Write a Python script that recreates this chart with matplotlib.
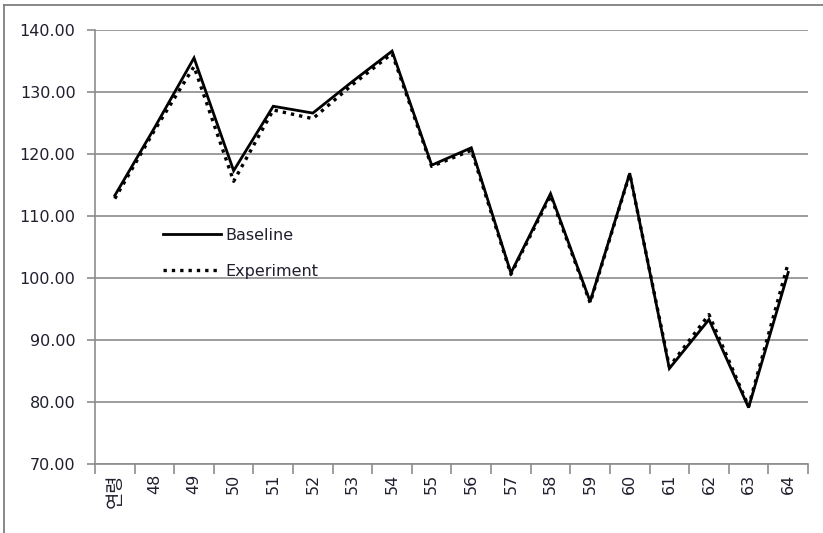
import matplotlib
matplotlib.use("Agg")
import matplotlib.pyplot as plt
from matplotlib.lines import Line2D
from matplotlib.ticker import FixedLocator, FormatStrFormatter

plt.rcParams['font.family'] = ['DejaVu Sans', 'Noto Sans CJK KR']

categories = ['연령', '48', '49', '50', '51', '52', '53', '54', '55',
              '56', '57', '58', '59', '60', '61', '62', '63', '64']
baseline = [113.3, 124.2, 135.5, 117.3, 127.7, 126.6, 131.7, 136.6, 118.2,
            121.0, 100.8, 113.6, 96.2, 116.9, 85.4, 93.3, 79.1, 100.9]
experiment = [112.8, 123.8, 134.1, 115.6, 127.1, 125.7, 131.2, 136.2, 118.0,
              120.6, 100.6, 113.3, 96.0, 116.8, 85.7, 94.1, 79.3, 102.4]

W, H = 823, 533
fig = plt.figure(figsize=(W / 100, H / 100), dpi=100)
fig.patch.set_facecolor('white')

# chart frame edges (left and top)
frame_kw = dict(transform=fig.transFigure, color='#7f7f7f', linewidth=1.3)
fig.add_artist(Line2D([3.5 / W, 3.5 / W], [0, (H - 5) / H], **frame_kw))
fig.add_artist(Line2D([3.5 / W, 1], [(H - 5) / H, (H - 5) / H], **frame_kw))

left, right, top, bottom = 95, 808, 30, 464
ax = fig.add_axes([left / W, (H - bottom) / H, (right - left) / W, (bottom - top) / H])

x = list(range(len(categories)))
ax.plot(x, baseline, color='black', linewidth=2.0, label='Baseline',
        solid_joinstyle='miter', zorder=3)
ax.plot(x, experiment, color='black', linewidth=2.4, linestyle=(0, (1, 1.5)),
        label='Experiment', zorder=4)

ax.set_xlim(-0.5, len(categories) - 0.5)
ax.set_ylim(70, 140)

grid_color = '#8c8c8c'
text_color = '#1f1f2e'

ax.set_yticks(range(70, 141, 10))
ax.yaxis.set_major_formatter(FormatStrFormatter('%.2f'))
ax.yaxis.grid(True, color=grid_color, linewidth=1.2)
ax.set_axisbelow(True)
ax.tick_params(axis='y', direction='out', length=6, width=1.2, color=grid_color,
               labelsize=11.5, labelcolor=text_color, pad=8)

ax.set_xticks(x)
ax.set_xticklabels(categories, rotation=90, va='top', ha='center')
ax.get_xticklabels()[0].set_fontsize(13.5)
ax.xaxis.set_minor_locator(FixedLocator([i - 0.5 for i in range(len(categories) + 1)]))
ax.tick_params(axis='x', which='major', length=0, labelsize=11.5,
               labelcolor=text_color, pad=7)
ax.get_xticklabels()[0].set_fontsize(13.5)
ax.tick_params(axis='x', which='minor', direction='out', length=7, width=1.2,
               color=grid_color)

for side in ('top', 'right'):
    ax.spines[side].set_visible(False)
for side in ('left', 'bottom'):
    ax.spines[side].set_color(grid_color)
    ax.spines[side].set_linewidth(1.2)

ax.legend(loc='upper left', bbox_to_anchor=((163 - left) / (right - left),
                                            (bottom - 228) / (bottom - top)),
          frameon=False, fontsize=11.5, handlelength=3.6, handletextpad=0.3,
          labelspacing=1.3, borderpad=0, borderaxespad=0, labelcolor=text_color)

fig.savefig('out.png', dpi=100, facecolor='white')
